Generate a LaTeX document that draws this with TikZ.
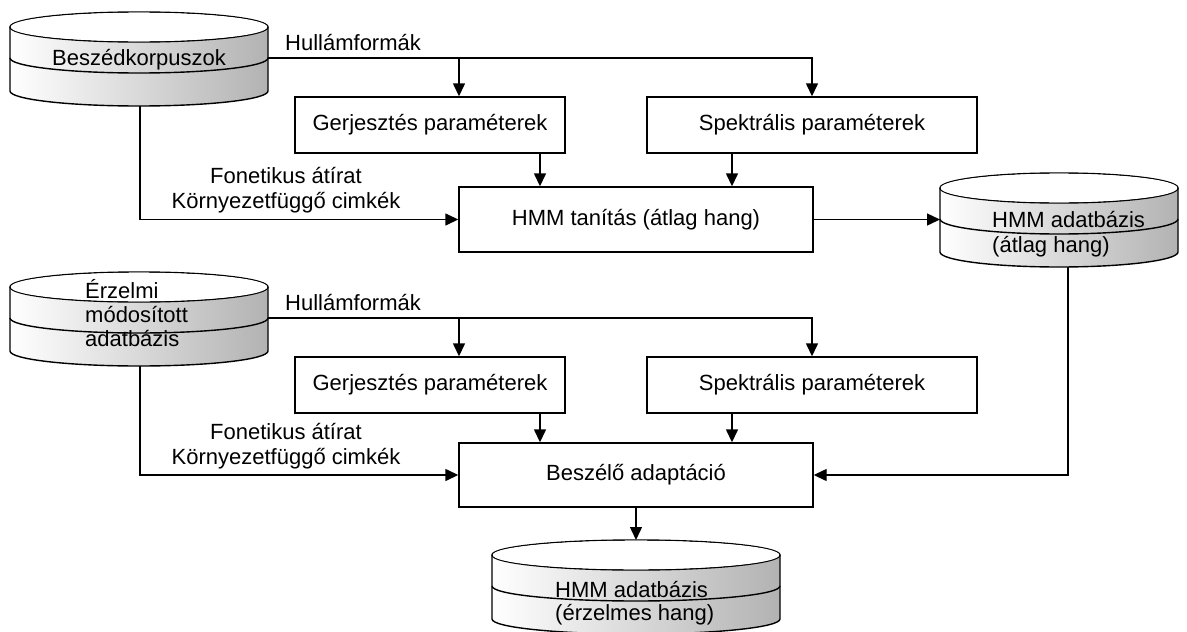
\documentclass[tikz,border=0pt]{standalone}
\usepackage{fontspec}
\setmainfont{Liberation Sans}
\usetikzlibrary{arrows.meta}

% database disk: #1 name, #2 left x, #3 right x, #4 y of the top rim
\newcommand\dbdisk[4]{%
  \pgfmathsetmacro\dL{#2}\pgfmathsetmacro\dR{#3}\pgfmathsetmacro\dT{#4}%
  \pgfmathsetmacro\dC{(#2+#3)/2}\pgfmathsetmacro\dRx{(#3-#2)/2}%
  \pgfmathsetmacro\dM{#4+31}\pgfmathsetmacro\dB{#4+64}%
  \shade[left color=white,right color=black!30]
    (\dL,\dT) -- (\dL,\dB) arc[start angle=180,end angle=360,x radius=\dRx pt,y radius=15pt]
    -- (\dR,\dT) -- cycle;
  \draw[line] (\dC,\dT) ellipse[x radius=\dRx pt,y radius=15pt];
  \fill[white] (\dC,\dT) ellipse[x radius=\dRx pt-0.7pt,y radius=14.3pt];
  \draw[line] (\dL,\dT) -- (\dL,\dB) arc[start angle=180,end angle=360,x radius=\dRx pt,y radius=15pt] -- (\dR,\dT);
  \draw[line] (\dL,\dM) arc[start angle=180,end angle=360,x radius=\dRx pt,y radius=15pt];
  \coordinate (#1-l) at (\dL,\dM);
  \coordinate (#1-r) at (\dR,\dM);
  \coordinate (#1-t) at (\dC,\dT-15);
  \coordinate (#1-b) at (\dC,\dB+15);
}

\begin{document}
\begin{tikzpicture}[x=1pt,y=-1pt,
  line/.style={line width=1.4pt,black},
  arr/.style={line,-{Triangle[length=13pt,width=12pt]}},
  box/.style={draw,line width=1.4pt,fill=white,inner sep=0pt,font=\fontsize{22}{26}\selectfont},
  lbl/.style={inner sep=0pt,font=\fontsize{22}{26}\selectfont}]

\useasboundingbox (0,0) rectangle (1187,632);

% databases
\dbdisk{korp}{10}{268}{27}
\dbdisk{hmma}{940}{1178}{188}
\dbdisk{erz}{10}{268}{287}
\dbdisk{hmme}{492}{780}{555}

\node[lbl,anchor=base] (korptxt) at (139,65) {Beszédkorpuszok};
\node[lbl,anchor=base west] (hmmatxt1) at (992,227) {HMM adatbázis};
\node[lbl,anchor=base west] (hmmatxt2) at (992,252) {(átlag hang)};
\node[lbl,anchor=base west] (erztxt1) at (85,298) {Érzelmi};
\node[lbl,anchor=base west] (erztxt2) at (85,322) {módosított};
\node[lbl,anchor=base west] (erztxt3) at (85,346) {adatbázis};
\node[lbl,anchor=base west] (hmmetxt1) at (555,597) {HMM adatbázis};
\node[lbl,anchor=base west] (hmmetxt2) at (555,620) {(érzelmes hang)};

% processing boxes
\node[box,minimum width=270pt,minimum height=56pt] (gerj1) at (430,125) {Gerjesztés paraméterek};
\node[box,minimum width=330pt,minimum height=56pt] (spek1) at (812,125) {Spektrális paraméterek};
\node[box,minimum width=354pt,minimum height=65pt] (tan) at (636,219.5) {HMM tanítás (átlag hang)};
\node[box,minimum width=270pt,minimum height=56pt] (gerj2) at (430,385) {Gerjesztés paraméterek};
\node[box,minimum width=330pt,minimum height=56pt] (spek2) at (812,385) {Spektrális paraméterek};
\node[box,minimum width=354pt,minimum height=64pt] (adapt) at (636,475) {Beszélő adaptáció};

% branch columns
\coordinate (gx) at (459,0);
\coordinate (gy) at (540,0);
\coordinate (sy) at (732,0);
\coordinate (hx) at (1068,0);

% upper stage
\draw[arr] (korp-r) -| (spek1.north);
\draw[arr] (korp-r -| gx) -- (gerj1.north -| gx);
\node[lbl,anchor=base west] (hul1) at (285,50) {Hullámformák};
\draw[arr] (gerj1.south -| gy) -- (tan.north -| gy);
\draw[arr] (spek1.south -| sy) -- (tan.north -| sy);
\draw[arr] (korp-b -| 140,0) |- (tan.west);
\node[lbl,anchor=base] (fon1) at (286,183) {Fonetikus átírat};
\node[lbl,anchor=base] (kor1) at (286,208) {Környezetfüggő cimkék};
\draw[arr] (tan.east) -- (tan.east -| hmma-l);

% lower stage
\draw[arr] (erz-r) -| (spek2.north);
\draw[arr] (erz-r -| gx) -- (gerj2.north -| gx);
\node[lbl,anchor=base west] (hul2) at (285,310) {Hullámformák};
\draw[arr] (gerj2.south -| gy) -- (adapt.north -| gy);
\draw[arr] (spek2.south -| sy) -- (adapt.north -| sy);
\draw[arr] (erz-b -| 140,0) |- (adapt.west);
\node[lbl,anchor=base] (fon2) at (286,439) {Fonetikus átírat};
\node[lbl,anchor=base] (kor2) at (286,464) {Környezetfüggő cimkék};
\draw[arr] (hmma-b -| hx) |- (adapt.east);
\draw[arr] (adapt.south) -- (hmme-t);

\end{tikzpicture}
\end{document}
